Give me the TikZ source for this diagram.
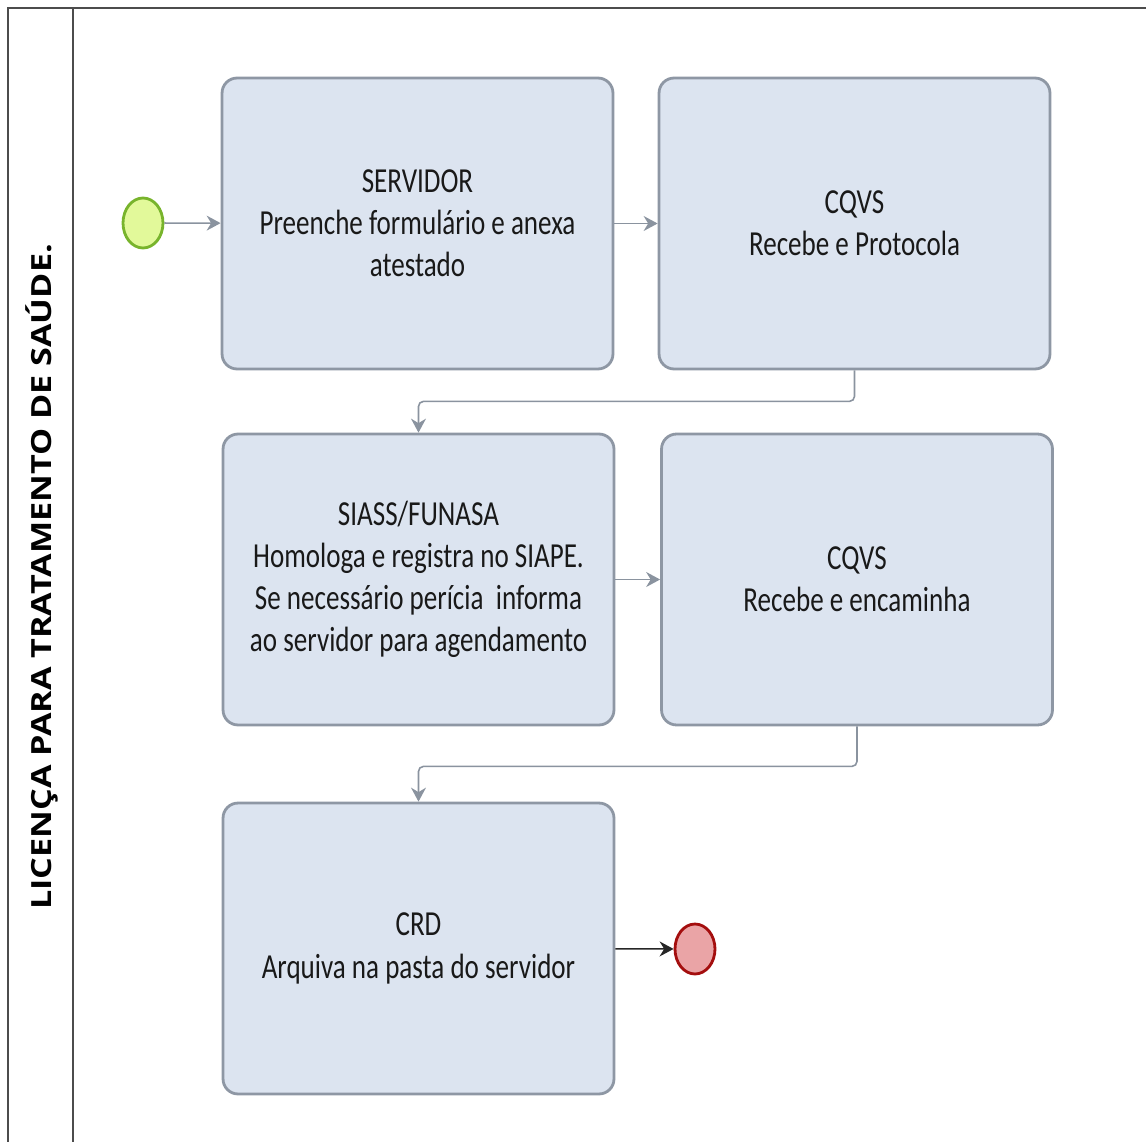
\documentclass[tikz,border=0pt]{standalone}
\usepackage{fontspec}
\usepackage{xcolor}
\usetikzlibrary{arrows.meta,shapes.geometric}
\newfontfamily\boxfont{Carlito}[FakeStretch=0.77]
\newfontfamily\titlefont{Open Sans}[FakeStretch=1.23]
\definecolor{boxfill}{HTML}{DCE4F0}
\definecolor{boxline}{HTML}{8E97A4}
\definecolor{flowline}{HTML}{8A939F}
\definecolor{startfill}{HTML}{E2F99A}
\definecolor{startline}{HTML}{78B42C}
\definecolor{endfill}{HTML}{EAA4A6}
\definecolor{endline}{HTML}{A40E0E}
\tikzset{
  taskbox/.style = {draw = boxline, fill = boxfill, line width = 1.6pt,
    rounded corners = 0.3cm, minimum width = 7.82cm, minimum height = 5.82cm,
    align = center, text = black!90,
    font = \boxfont\fontsize{20}{24}\selectfont},
  flow/.style = {draw = flowline, line width = 0.9pt, rounded corners = 0.1cm,
    -{Stealth[length = 0.28cm, width = 0.3cm]}},
  event/.style = {ellipse, minimum width = 0.8cm, minimum height = 1cm,
    inner sep = 0pt, line width = 1.6pt}
}
\begin{document}
\begin{tikzpicture}[x = 0.02cm, y = -0.02cm]
    \useasboundingbox (0, 0) rectangle (1146, 1142);
    % pool
    {
      \draw[line width = 1.1pt, black!70] (8, 1142) -- (8, 8) -- (1146, 8);
      \draw[line width = 1.1pt, black!70] (73, 8) -- (73, 1142);
      \node[rotate = 90, font = \titlefont\bfseries\fontsize{15.8}{18}\selectfont]
        (pooltitle) at (42, 577) {LICENÇA PARA TRATAMENTO DE SAÚDE.};
    }
    % tasks
    {
      \node[event, draw = startline, fill = startfill] (start) at (143, 223) {};
      \node[taskbox] (servidor) at (417.5, 223.5)
        {SERVIDOR\\Preenche formulário e anexa\\atestado};
      \node[taskbox] (cqvsa) at (854.5, 223.5) {CQVS\\Recebe e Protocola};
      \node[taskbox] (siass) at (418.5, 579.5)
        {SIASS/FUNASA\\Homologa e registra no SIAPE.\\Se necessário perícia\ \ informa\\ao servidor para agendamento};
      \node[taskbox] (cqvsb) at (857, 579.5) {CQVS\\Recebe e encaminha};
      \node[taskbox] (crd) at (418.5, 948.5) {CRD\\Arquiva na pasta do servidor};
      \node[event, draw = endline, fill = endfill] (finish) at (695, 949) {};
    }
    \draw[flow] (start) -- (servidor);
    \draw[flow] (servidor) -- (cqvsa);
    \draw[flow] (cqvsa.south) -- ++(0, 31) -| (siass.north);
    \draw[flow] (siass) -- (cqvsb);
    \draw[flow] (cqvsb.south) -- ++(0, 40) -| (crd.north);
    \draw[flow, draw = black!85] (crd) -- (finish);
  \end{tikzpicture}
\end{document}
